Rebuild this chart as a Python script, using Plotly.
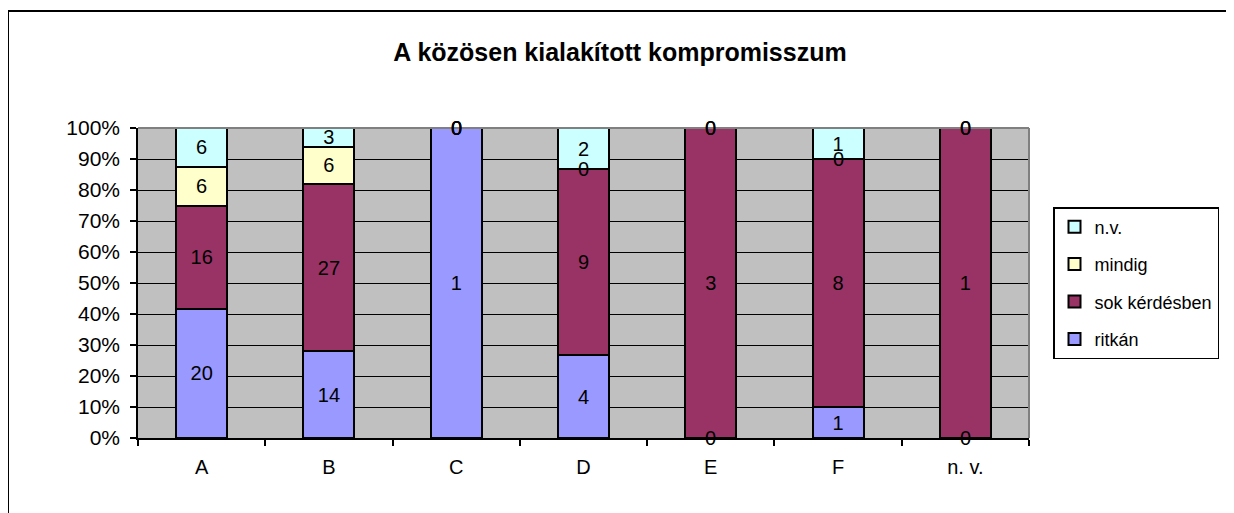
import numpy as np
import plotly.graph_objects as go

categories = ["A", "B", "C", "D", "E", "F", "n. v."]
series_names = ["ritkán", "sok kérdésben", "mindig", "n.v."]
ritkan = [20, 14, 1, 4, 0, 1, 0]
sok_kerdesben = [16, 27, 0, 9, 3, 8, 1]
mindig = [6, 6, 0, 0, 0, 0, 0]
nv = [6, 3, 0, 2, 0, 1, 0]
colors = ["#9999FF", "#993366", "#FFFFCC", "#CCFFFF"]
y_ticks = list(range(0, 101, 10))

FONT = "Arial, Liberation Sans, sans-serif"

# page body has an 8px margin; work in screen pixels
OFF = 8
W, H = 1234 - OFF, 513 - OFF
PL, PR, PT, PB = 138, 1029, 128, 438  # plot area in screen px

data = np.array([ritkan, sok_kerdesben, mindig, nv], dtype=float)
totals = data.sum(axis=0)
pct = data / totals * 100
cum_top = np.cumsum(pct, axis=0)
cum_bottom = cum_top - pct

fig = go.Figure()
n = len(series_names)
for i, name in enumerate(series_names):
    vals = data[i]
    fig.add_trace(go.Bar(
        x=categories, y=pct[i], name=name,
        marker=dict(color=colors[i], line=dict(color="black", width=2)),
        text=[str(int(v)) if v > 0 else "" for v in vals],
        textposition="inside", insidetextanchor="middle", textangle=0,
        insidetextfont=dict(family=FONT, size=20, color="black"),
        width=0.4, legendgroup=name, legendrank=n - i, hoverinfo="skip",
    ))

annotations = []
for i in range(n):
    for j, cat in enumerate(categories):
        if data[i, j] == 0:
            annotations.append(dict(
                x=cat, y=cum_bottom[i, j], xref="x", yref="y",
                text="0", showarrow=False, yanchor="middle",
                font=dict(family=FONT, size=20, color="black"),
            ))

def px_x(p):
    return (p - PL) / float(PR - PL)

def px_y(p):
    return (PB - p) / float(PB - PT)

shapes = [
    # outer chart frame
    dict(type="line", xref="paper", yref="paper", x0=px_x(8), x1=px_x(1250), y0=px_y(11), y1=px_y(11),
         line=dict(color="black", width=2)),
    dict(type="line", xref="paper", yref="paper", x0=px_x(8), x1=px_x(8), y0=px_y(11), y1=px_y(530),
         line=dict(color="black", width=2)),
    # plot area top/right border
    dict(type="line", xref="paper", yref="paper", x0=0, x1=1, y0=1, y1=1,
         line=dict(color="#808080", width=2)),
    dict(type="line", xref="paper", yref="paper", x0=1, x1=1, y0=0, y1=1,
         line=dict(color="#808080", width=2)),
]

fig.update_layout(
    width=W, height=H,
    margin=dict(l=PL - OFF, r=W - (PR - OFF), t=PT - OFF, b=H - (PB - OFF), pad=0, autoexpand=False),
    barmode="stack",
    paper_bgcolor="white",
    plot_bgcolor="#C0C0C0",
    font=dict(family=FONT, color="black"),
    title=dict(text="<b>A közösen kialakított kompromisszum</b>", x=(620 - OFF) / W, xanchor="center",
               y=1 - (52 - OFF) / H, yanchor="middle", yref="container",
               font=dict(family=FONT, size=25, color="black")),
    xaxis=dict(
        showline=True, linecolor="black", linewidth=1.5,
        ticks="outside", tickson="boundaries", ticklen=6, tickcolor="black", tickwidth=1.5,
        tickfont=dict(family=FONT, size=20), showgrid=False, ticklabelstandoff=10,
    ),
    yaxis=dict(
        range=[0, 100], tickvals=y_ticks, ticktext=[f"{t}%" for t in y_ticks],
        showline=True, linecolor="black", linewidth=1.5,
        ticks="outside", ticklen=6, tickcolor="black", tickwidth=1.5,
        showgrid=True, gridcolor="black", gridwidth=1.2, zeroline=False,
        tickfont=dict(family=FONT, size=21), ticklabelstandoff=6,
    ),
    legend=dict(
        x=px_x(1053), y=px_y(207), xanchor="left", yanchor="top",
        traceorder="grouped", tracegroupgap=11, itemwidth=30,
        bordercolor="black", borderwidth=1.5, bgcolor="white",
        font=dict(family=FONT, size=18),
    ),
    uniformtext=dict(minsize=20, mode="show"),
    annotations=annotations,
    shapes=shapes,
)

fig.write_html("out.html")
